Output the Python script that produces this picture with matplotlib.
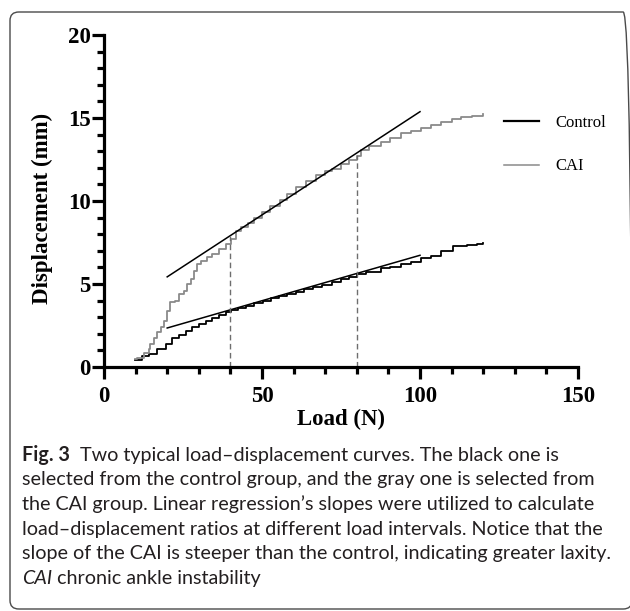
import matplotlib.pyplot as plt
from matplotlib.patches import FancyBboxPatch
from matplotlib.ticker import MultipleLocator

# gray curve (CAI)
cai_load = [9.8, 10.5, 12.6, 14.2, 14.7, 15.8, 16.8, 17.9, 18.9, 20.0, 21.0, 22.6,
            23.7, 25.2, 26.3, 27.4, 28.4, 29.5, 30.6, 32.7, 34.3, 36.4, 38.5, 40.1,
            41.7, 43.5, 45.5, 47.5, 50.0, 52.5, 55.7, 58.0, 60.8, 64.0, 67.2, 70.0,
            72.3, 75.0, 77.4, 80.0, 81.2, 84.0, 87.5, 90.5, 93.9, 97.0, 100.3, 103.5,
            106.7, 110.0, 113.0, 116.5, 120.0]
cai_disp = [0.50, 0.56, 0.87, 1.07, 1.37, 1.77, 2.08, 2.38, 2.78, 3.39, 3.89, 3.99,
            4.40, 4.60, 5.00, 5.30, 5.81, 6.21, 6.41, 6.61, 6.81, 7.12, 7.42, 7.72,
            8.20, 8.45, 8.70, 9.00, 9.35, 9.70, 10.05, 10.45, 10.85, 11.20, 11.55, 11.80,
            11.95, 12.20, 12.46, 12.70, 13.07, 13.30, 13.57, 13.80, 14.07, 14.20, 14.37, 14.55,
            14.77, 14.95, 15.08, 15.15, 15.24]

# black curve (control)
ctrl_load = [9.8, 12.1, 14.2, 16.8, 19.5, 21.6, 23.7, 25.8, 27.9, 30.0, 32.2, 34.3,
             36.4, 38.5, 40.1, 42.5, 44.9, 47.5, 50.2, 52.8, 55.4, 58.0, 60.7, 63.3,
             66.0, 69.0, 72.3, 75.0, 77.5, 80.0, 83.0, 87.5, 90.5, 93.9, 97.0, 100.3,
             103.5, 106.7, 110.5, 115.0, 118.0, 120.0]
ctrl_disp = [0.44, 0.67, 0.81, 1.07, 1.41, 1.77, 1.92, 2.18, 2.38, 2.58, 2.78, 2.94,
             3.15, 3.29, 3.43, 3.55, 3.69, 3.85, 3.99, 4.15, 4.29, 4.42, 4.54, 4.67,
             4.80, 4.95, 5.10, 5.30, 5.45, 5.62, 5.75, 5.95, 6.05, 6.20, 6.35, 6.55,
             6.70, 7.00, 7.30, 7.35, 7.40, 7.50]

# regression lines
fit_load = [20, 100]
cai_fit = [5.43, 15.38]
ctrl_fit = [2.35, 6.73]

# load interval markers
interval_load = [40, 80]
interval_top = [7.9, 12.75]

caption = [
    ("Fig. 3", "Two typical load\u2013displacement curves. The black one is"),
    (None, "selected from the control group, and the gray one is selected from"),
    (None, "the CAI group. Linear regression\u2019s slopes were utilized to calculate"),
    (None, "load\u2013displacement ratios at different load intervals. Notice that the"),
    (None, "slope of the CAI is steeper than the control, indicating greater laxity."),
    ("CAI", "chronic ankle instability"),
]

W, H = 630, 611
fig = plt.figure(figsize=(W / 100, H / 100), dpi=100)

# rounded frame around figure + caption
box = FancyBboxPatch((10 / W, 1 - 609 / H), 622 / W, 597 / H,
                     boxstyle="round,pad=0,rounding_size=0.014",
                     transform=fig.transFigure, fc="none", ec="#4a4a4a", lw=1.0)
fig.patches.append(box)

ax = fig.add_axes([104 / W, 1 - 367 / H, 474 / W, 332 / H])

ax.plot(ctrl_load, ctrl_disp, color="black", lw=1.3, drawstyle="steps-post", label="Control")
ax.plot(cai_load, cai_disp, color="#8a8a8a", lw=1.3, drawstyle="steps-post", label="CAI")
ax.plot(fit_load, cai_fit, color="black", lw=1.1)
ax.plot(fit_load, ctrl_fit, color="black", lw=1.1)
ax.vlines(interval_load, 0, interval_top, colors="#6e6e6e", lw=1.0, linestyles=(0, (4, 2.5)))

ax.set_xlim(0, 150)
ax.set_ylim(0, 20)
ax.xaxis.set_major_locator(MultipleLocator(50))
ax.xaxis.set_minor_locator(MultipleLocator(10))
ax.yaxis.set_major_locator(MultipleLocator(5))
ax.yaxis.set_minor_locator(MultipleLocator(1))

for s in ["top", "right"]:
    ax.spines[s].set_visible(False)
for s in ["left", "bottom"]:
    ax.spines[s].set_linewidth(2.3)

ax.tick_params(which="major", length=8.5, width=2.3, direction="out")
ax.tick_params(which="minor", length=4.8, width=2.3, direction="out")
ax.tick_params(axis="x", which="major", pad=5)
ax.tick_params(axis="y", which="major", pad=1)
for lab in ax.get_xticklabels() + ax.get_yticklabels():
    lab.set_fontfamily("Liberation Serif")
    lab.set_fontweight("bold")
    lab.set_fontsize(16.5)

fig.text(42 / W, 1 - 208 / H, "Displacement (mm)", rotation=90, ha="center", va="center",
         family="Liberation Serif", weight="bold", fontsize=16.5)
fig.text(341 / W, 1 - 419 / H, "Load (N)", ha="center", va="center",
         family="Liberation Serif", weight="bold", fontsize=16.5)

leg = ax.legend(loc="upper left", bbox_to_anchor=(504 / W, 1 - 115 / H),
                bbox_transform=fig.transFigure, frameon=False, borderpad=0,
                borderaxespad=0, handlelength=2.1, handletextpad=1.0,
                labelspacing=1.65, prop={"family": "Liberation Serif", "size": 12})
leg.get_lines()[0].set_linewidth(1.6)
leg.get_lines()[1].set_linewidth(1.1)

# caption with bold / italic lead words
fig.canvas.draw()
renderer = fig.canvas.get_renderer()
cap_font = dict(family="Lato", fontsize=14.2, color="#231f20", va="center")
line_y = [455, 480, 504.5, 529, 554, 578.5]
for (lead, rest), y in zip(caption, line_y):
    x = 22 / W
    if lead is not None:
        style = dict(weight="bold") if lead.startswith("Fig") else dict(style="italic")
        t = fig.text(x, 1 - y / H, lead, **cap_font, **style)
        ext = t.get_window_extent(renderer)
        gap = 10 if lead.startswith("Fig") else 5
        x = (ext.x1 + gap) / W
    fig.text(x, 1 - y / H, rest, **cap_font)

fig.savefig("out.png", dpi=100)
